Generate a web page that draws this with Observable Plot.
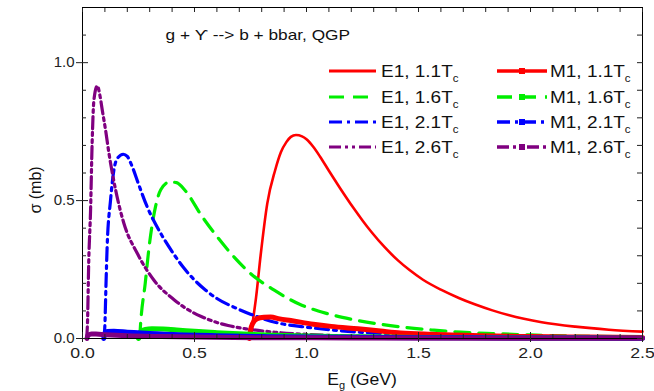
<!DOCTYPE html>
<html><head><meta charset="utf-8">
<script src="https://cdn.jsdelivr.net/npm/d3@7"></script>
<script src="https://cdn.jsdelivr.net/npm/@observablehq/plot@0.6"></script>
<style>
body{margin:0;background:#fff;}
#chart{position:relative;width:654px;height:391px;}
</style>
</head><body><div id="chart"></div>
<script>
// ---- data (E_g in GeV, sigma in mb) ----
const E1_11 = [[0.75,0],[0.76,0.06],[0.775,0.15],[0.795,0.30],[0.825,0.49],[0.86,0.61],[0.886,0.676],[0.91,0.712],[0.93,0.731],[0.953,0.738],[0.98,0.733],[1.0,0.722],[1.03,0.695],[1.06,0.66],[1.1,0.608],[1.15,0.545],[1.21,0.473],[1.25,0.428],[1.29,0.386],[1.35,0.33],[1.407,0.284],[1.46,0.248],[1.52,0.213],[1.6,0.177],[1.68,0.147],[1.751,0.124],[1.83,0.102],[1.901,0.085],[2.05,0.059],[2.2,0.043],[2.35,0.032],[2.5,0.025]];
const E1_16 = [[0.255,0],[0.26,0.06],[0.28,0.2],[0.297,0.33],[0.326,0.478],[0.35,0.54],[0.39,0.568],[0.42,0.565],[0.46,0.535],[0.53,0.447],[0.6,0.37],[0.677,0.295],[0.751,0.235],[0.856,0.175],[0.967,0.125],[1.085,0.092],[1.2,0.07],[1.31,0.054],[1.43,0.041],[1.556,0.031],[1.69,0.023],[1.83,0.018],[2.0,0.013],[2.2,0.009],[2.5,0.006]];
const E1_21 = [[0.095,0],[0.1,0.05],[0.105,0.2],[0.11,0.332],[0.125,0.5],[0.14,0.61],[0.155,0.652],[0.182,0.668],[0.2,0.66],[0.222,0.623],[0.25,0.56],[0.289,0.477],[0.35,0.38],[0.4,0.315],[0.45,0.258],[0.5,0.212],[0.55,0.175],[0.6,0.145],[0.68,0.112],[0.75,0.088],[0.88,0.055],[1.0,0.041],[1.2,0.025],[1.5,0.014],[2.0,0.007],[2.5,0.004]];
const E1_26 = [[0.018,0],[0.022,0.05],[0.028,0.284],[0.036,0.465],[0.043,0.708],[0.051,0.865],[0.066,0.916],[0.078,0.88],[0.088,0.829],[0.103,0.756],[0.118,0.672],[0.148,0.538],[0.185,0.417],[0.245,0.308],[0.319,0.211],[0.41,0.14],[0.46,0.11],[0.53,0.08],[0.6,0.058],[0.65,0.047],[0.73,0.035],[0.856,0.023],[1.0,0.015],[1.2,0.009],[1.5,0.005],[2.0,0.002],[2.5,0.001]];
const M1_11 = [[0.745,0],[0.75,0.03],[0.76,0.055],[0.78,0.072],[0.81,0.077],[0.84,0.078],[0.88,0.071],[0.93,0.065],[1.03,0.052],[1.11,0.044],[1.23,0.035],[1.33,0.027],[1.42,0.02],[1.556,0.015],[1.78,0.01],[2.0,0.007],[2.25,0.005],[2.5,0.004]];
const M1_16 = [[0.25,0],[0.26,0.025],[0.28,0.033],[0.31,0.035],[0.36,0.034],[0.42,0.031],[0.5,0.026],[0.6,0.021],[0.72,0.016],[0.85,0.012],[1.0,0.009],[1.25,0.006],[1.5,0.004],[2.0,0.002],[2.5,0.001]];
const M1_21 = [[0.095,0],[0.1,0.02],[0.11,0.025],[0.14,0.026],[0.2,0.023],[0.3,0.018],[0.45,0.013],[0.6,0.01],[0.8,0.007],[1.0,0.005],[1.5,0.003],[2.0,0.002],[2.5,0.001]];
const M1_26 = [[0.02,0],[0.025,0.012],[0.04,0.016],[0.06,0.016],[0.1,0.014],[0.2,0.01],[0.35,0.007],[0.5,0.005],[0.8,0.003],[1.2,0.002],[2.5,0.001]];

const X_MAJOR = [0, 0.5, 1.0, 1.5, 2.0, 2.5];
const X_MINOR = [0.1,0.2,0.3,0.4,0.6,0.7,0.8,0.9,1.1,1.2,1.3,1.4,1.6,1.7,1.8,1.9,2.1,2.2,2.3,2.4];
const Y_MAJOR = [0, 0.5, 1.0];
const Y_MINOR = [0.1,0.2,0.3,0.4,0.6,0.7,0.8,0.9,1.1];
const TITLE = "g + \u03D2 --> b + bbar, QGP";
const TEMPS = ["1.1", "1.6", "2.1", "2.6"];

// ---- styles ----
const COLORS = ["#ff0000", "#00ee00", "#0000ff", "#800080"];
const DASHES = [null, "15,9", "13,5,3,5", "12,4,3,4,3,4"];
const E1_WIDTHS = [2.6, 3.2, 3.2, 3.2];
const E1 = [E1_11, E1_16, E1_21, E1_26];
const M1 = [M1_11, M1_16, M1_21, M1_26];
const FONT = "'Liberation Sans', Arial, Helvetica, sans-serif";

const lineOpts = (c, w, dash) => ({x: d => d[0], y: d => d[1], stroke: c, strokeWidth: w, strokeDasharray: dash, curve: "monotone-x"});
const tickOnly = (anchor, size) => ({anchor, tickSize: size, fill: "none", label: null});

const plot = Plot.plot({
  width: 654, height: 391,
  marginLeft: 82, marginRight: 12, marginTop: 7, marginBottom: 53,
  x: {domain: [0, 2.5]},
  y: {domain: [0, 1.2]},
  style: {fontFamily: FONT, background: "white", color: "#222"},
  marks: [
    ...E1.map((s, i) => Plot.line(s, lineOpts(COLORS[i], E1_WIDTHS[i], DASHES[i]))),
    ...M1.map((s, i) => Plot.line(s, lineOpts(COLORS[i], 5, null))),
    Plot.frame({stroke: "#000", strokeWidth: 1}),
    // ticks on all sides (inward; majors cross on left/bottom)
    Plot.axisX(X_MINOR, tickOnly("bottom", -4)),
    Plot.axisX(X_MAJOR, tickOnly("bottom", -6)),
    Plot.axisX(X_MAJOR, tickOnly("bottom", 4)),
    Plot.axisX(X_MINOR.concat(X_MAJOR), tickOnly("top", -4)),
    Plot.axisY(Y_MINOR, tickOnly("left", -4)),
    Plot.axisY(Y_MAJOR, tickOnly("left", -6)),
    Plot.axisY(Y_MAJOR, tickOnly("left", 6)),
    Plot.axisY(Y_MINOR.concat(Y_MAJOR), tickOnly("right", -6)),
    // tick labels
    Plot.axisX(X_MAJOR, {anchor: "bottom", tickSize: 0, tickPadding: 9, tickFormat: d3.format(".1f"), fontSize: 15, label: null}),
    Plot.axisY(Y_MAJOR, {anchor: "left", tickSize: 0, tickPadding: 8, tickFormat: d3.format(".1f"), fontSize: 15, label: null}),
    Plot.text([TITLE], {frameAnchor: "top-left", dx: 83, dy: 22, fontSize: 15, textAnchor: "start", fill: "#111"})
  ]
});
document.getElementById("chart").appendChild(plot);

// ---- axis titles and legend (real SVG text) ----
const svg = d3.select(plot);
const xl = svg.append("text").attr("x", 362).attr("y", 385).attr("text-anchor", "middle")
  .attr("font-family", FONT).attr("font-size", 16).attr("fill", "#111");
xl.append("tspan").text("E");
xl.append("tspan").attr("dy", 4).attr("font-size", 10).text("g");
xl.append("tspan").attr("dy", -4).text(" (GeV)");

svg.append("text").attr("transform", "translate(41,190) rotate(-90)").attr("text-anchor", "middle")
  .attr("font-family", FONT).attr("font-size", 16).attr("fill", "#111").text("\u03C3 (mb)");

const leg = svg.append("g").attr("class", "legend").attr("font-family", FONT).attr("font-size", 16.5)
  .attr("fill", "#111").attr("text-anchor", "start");
const rowY = [71, 97, 122, 147];
const cols = [{x0: 329, x1: 376, tx: 381, name: "E1", marker: false}, {x0: 497, x1: 547, tx: 550, name: "M1", marker: true}];
cols.forEach(col => {
  TEMPS.forEach((t, i) => {
    const y = rowY[i];
    leg.append("line").attr("x1", col.x0).attr("x2", col.x1).attr("y1", y).attr("y2", y)
      .attr("stroke", COLORS[i]).attr("stroke-width", col.marker ? 3.5 : 3).attr("stroke-dasharray", DASHES[i]);
    if (col.marker) leg.append("rect").attr("x", (col.x0 + col.x1) / 2 - 3).attr("y", y - 3).attr("width", 6).attr("height", 6).attr("fill", COLORS[i]);
    const tx = leg.append("text").attr("x", col.tx).attr("y", y + 6);
    tx.append("tspan").text(`${col.name}, ${t}T`);
    tx.append("tspan").attr("dy", 5).attr("font-size", 10).text("c");
  });
});

// the reference's lettering is slightly wide: stretch text horizontally
function stretch(sel, f) {
  sel.each(function () {
    const len = this.getComputedTextLength();
    if (len > 0) d3.select(this).attr("textLength", len * f).attr("lengthAdjust", "spacingAndGlyphs");
  });
}
stretch(svg.selectAll("g[aria-label='x-axis tick label'] text"), 1.18);
stretch(svg.selectAll("g[aria-label='text'] text"), 1.15);
stretch(leg.selectAll("text"), 1.15);
stretch(xl, 1.1);
</script>
</body></html>
